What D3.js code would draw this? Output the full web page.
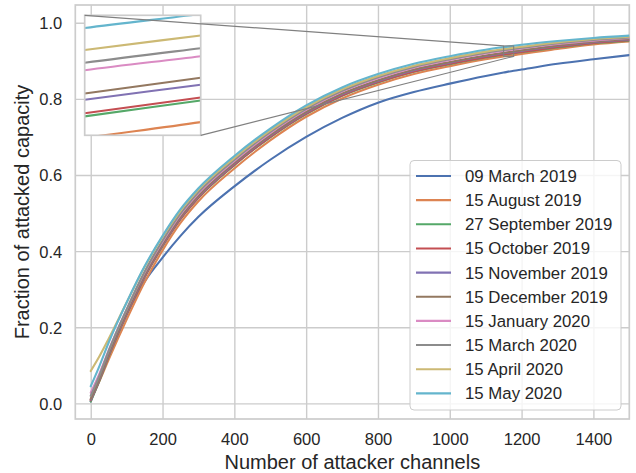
<!DOCTYPE html>
<html>
<head>
<meta charset="utf-8">
<script src="https://cdn.jsdelivr.net/npm/d3@7"></script>
<style>
  html, body { margin: 0; padding: 0; background: #ffffff; }
  svg { display: block; font-family: "Liberation Sans", Arial, Helvetica, sans-serif; }
</style>
</head>
<body>
<svg id="chart" width="636" height="473"></svg>
<script>
// ---------------- data ----------------
const xValues = [0, 25, 50, 100, 150, 200, 250, 300, 400, 500, 600, 700, 800, 900, 1000, 1100, 1150, 1178, 1200, 1300, 1400, 1500];

const seriesNames = ["09 March 2019", "15 August 2019", "27 September 2019", "15 October 2019",
  "15 November 2019", "15 December 2019", "15 January 2020", "15 March 2020", "15 April 2020", "15 May 2020"];

const seriesColors = ["#4C72B0", "#DD8452", "#55A868", "#C44E52", "#8172B3", "#937860", "#DA8BC3", "#8C8C8C", "#CCB974", "#64B5CD"];

const march2019     = [0.005, 0.065, 0.125, 0.235, 0.320, 0.383, 0.440, 0.490, 0.570, 0.640, 0.700, 0.750, 0.790, 0.818, 0.840, 0.860, 0.869, 0.8738, 0.877, 0.892, 0.904, 0.915];
const august2019    = [0.010, 0.060, 0.115, 0.220, 0.318, 0.402, 0.474, 0.531, 0.617, 0.691, 0.753, 0.801, 0.837, 0.865, 0.886, 0.904, 0.9111, 0.9147, 0.918, 0.931, 0.943, 0.951];
const september2019 = [0.005, 0.061, 0.123, 0.233, 0.331, 0.413, 0.484, 0.540, 0.626, 0.699, 0.760, 0.808, 0.843, 0.871, 0.891, 0.9085, 0.9160, 0.9196, 0.9225, 0.935, 0.946, 0.953];
const october2019   = [0.008, 0.063, 0.125, 0.234, 0.332, 0.414, 0.485, 0.541, 0.627, 0.700, 0.761, 0.809, 0.844, 0.872, 0.892, 0.9095, 0.9167, 0.9203, 0.923, 0.936, 0.947, 0.954];
const november2019  = [0.010, 0.065, 0.128, 0.237, 0.335, 0.417, 0.488, 0.544, 0.630, 0.703, 0.764, 0.812, 0.847, 0.875, 0.895, 0.9125, 0.9198, 0.9232, 0.926, 0.939, 0.949, 0.956];
const december2019  = [0.012, 0.067, 0.130, 0.239, 0.337, 0.419, 0.490, 0.546, 0.632, 0.705, 0.766, 0.814, 0.849, 0.877, 0.897, 0.914, 0.9212, 0.9248, 0.9275, 0.940, 0.950, 0.957];
const january2020   = [0.028, 0.080, 0.140, 0.247, 0.344, 0.425, 0.496, 0.552, 0.637, 0.710, 0.771, 0.819, 0.854, 0.882, 0.902, 0.919, 0.9265, 0.9297, 0.9324, 0.944, 0.953, 0.960];
const march2020     = [0.020, 0.075, 0.138, 0.247, 0.346, 0.428, 0.499, 0.555, 0.640, 0.713, 0.774, 0.821, 0.857, 0.884, 0.904, 0.921, 0.9282, 0.9315, 0.934, 0.946, 0.955, 0.961];
const april2020     = [0.085, 0.125, 0.170, 0.265, 0.358, 0.437, 0.506, 0.561, 0.645, 0.717, 0.778, 0.825, 0.860, 0.887, 0.907, 0.924, 0.9311, 0.9344, 0.937, 0.948, 0.957, 0.963];
const may2020       = [0.045, 0.100, 0.160, 0.265, 0.360, 0.440, 0.510, 0.565, 0.650, 0.722, 0.783, 0.830, 0.865, 0.892, 0.912, 0.929, 0.9361, 0.9393, 0.942, 0.952, 0.960, 0.966];

const seriesValues = [march2019, august2019, september2019, october2019, november2019,
  december2019, january2020, march2020, april2020, may2020];

const xTicks = [0, 200, 400, 600, 800, 1000, 1200, 1400];
const yTicks = [0.0, 0.2, 0.4, 0.6, 0.8, 1.0];
const xLabel = "Number of attacker channels";
const yLabel = "Fraction of attacked capacity";

const xDomain = [-43, 1500];
const yDomain = [-0.041, 1.0465];
const insetXDomain = [1150, 1178];
const insetYDomain = [0.9117, 0.9390];

// ---------------- layout ----------------
const svg = d3.select("#chart");
const ax = { left: 75.3, right: 629.3, top: 5, bottom: 419 };
const ins = { left: 84.7, right: 200.7, top: 15.3, bottom: 135.3 };
const gridColor = "#cccccc";
const textColor = "#262626";

const x = d3.scaleLinear().domain(xDomain).range([ax.left, ax.right]);
const y = d3.scaleLinear().domain(yDomain).range([ax.bottom, ax.top]);

const defs = svg.append("defs");
defs.append("clipPath").attr("id", "clipMain").append("rect")
  .attr("x", ax.left).attr("y", ax.top).attr("width", ax.right - ax.left).attr("height", ax.bottom - ax.top);
defs.append("clipPath").attr("id", "clipInset").append("rect")
  .attr("x", ins.left).attr("y", ins.top).attr("width", ins.right - ins.left).attr("height", ins.bottom - ins.top);

// grid
const xAxisG = svg.append("g").attr("transform", `translate(0,${ax.bottom})`)
  .call(d3.axisBottom(x).tickValues(xTicks).tickSize(-(ax.bottom - ax.top)).tickPadding(10).tickFormat(d3.format("d")));
const yAxisG = svg.append("g").attr("transform", `translate(${ax.left},0)`)
  .call(d3.axisLeft(y).tickValues(yTicks).tickSize(-(ax.right - ax.left)).tickPadding(13).tickFormat(d3.format(".1f")));
[xAxisG, yAxisG].forEach(g => {
  g.select(".domain").remove();
  g.selectAll(".tick line").attr("stroke", gridColor).attr("stroke-width", 1.4);
  g.selectAll(".tick text").attr("fill", textColor).attr("font-size", "16.5px")
    .attr("font-family", "'Liberation Sans', Arial, sans-serif");
});
xAxisG.selectAll(".tick text").attr("dy", "0.71em").attr("y", 14);
yAxisG.selectAll(".tick text").attr("dy", "0.36em");

// frame
svg.append("rect").attr("x", ax.left).attr("y", ax.top)
  .attr("width", ax.right - ax.left).attr("height", ax.bottom - ax.top)
  .attr("fill", "none").attr("stroke", gridColor).attr("stroke-width", 1.7);

// lines
const pts = vals => xValues.map((xv, i) => [xv, vals[i]]);
const line = d3.line().x(d => x(d[0])).y(d => y(d[1])).curve(d3.curveMonotoneX);
const mainLines = svg.append("g").attr("clip-path", "url(#clipMain)");
seriesValues.forEach((vals, i) => {
  mainLines.append("path").datum(pts(vals)).attr("d", line)
    .attr("fill", "none").attr("stroke", seriesColors[i]).attr("stroke-width", 2.1)
    .attr("stroke-linejoin", "round").attr("stroke-linecap", "round");
});

// zoom region rectangle
const rx0 = x(insetXDomain[0]), rx1 = x(insetXDomain[1]);
const ry0 = y(insetYDomain[1]), ry1 = y(insetYDomain[0]);
svg.append("rect").attr("x", rx0).attr("y", ry0).attr("width", rx1 - rx0).attr("height", ry1 - ry0)
  .attr("fill", "none").attr("stroke", "#808080").attr("stroke-width", 1.1);

// labels
svg.append("text").attr("x", (ax.left + ax.right) / 2).attr("y", 469)
  .attr("text-anchor", "middle").attr("font-size", "20px").attr("fill", textColor).text(xLabel);
svg.append("text").attr("transform", `translate(28.5,${(ax.top + ax.bottom) / 2}) rotate(-90)`)
  .attr("text-anchor", "middle").attr("font-size", "20px").attr("fill", textColor).text(yLabel);

// legend
const lg = { left: 410, top: 160.5, width: 211, height: 249.5 };
svg.append("rect").attr("x", lg.left).attr("y", lg.top).attr("width", lg.width).attr("height", lg.height)
  .attr("rx", 4).attr("fill", "#ffffff").attr("fill-opacity", 0.8).attr("stroke", gridColor).attr("stroke-width", 1);
seriesNames.forEach((name, i) => {
  const cy = 176 + i * 24.15;
  svg.append("line").attr("x1", 416).attr("x2", 451).attr("y1", cy).attr("y2", cy)
    .attr("stroke", seriesColors[i]).attr("stroke-width", 2.1);
  svg.append("text").attr("x", 465).attr("y", cy).attr("dy", "0.36em")
    .attr("font-size", "16.8px").attr("fill", textColor).text(name);
});

// inset
const xi = d3.scaleLinear().domain(insetXDomain).range([ins.left, ins.right]);
const yi = d3.scaleLinear().domain(insetYDomain).range([ins.bottom, ins.top]);
svg.append("rect").attr("x", ins.left).attr("y", ins.top).attr("width", ins.right - ins.left).attr("height", ins.bottom - ins.top)
  .attr("fill", "#ffffff");
const lineI = d3.line().x(d => xi(d[0])).y(d => yi(d[1])).curve(d3.curveMonotoneX);
const insetLines = svg.append("g").attr("clip-path", "url(#clipInset)");
seriesValues.forEach((vals, i) => {
  insetLines.append("path").datum(pts(vals)).attr("d", lineI)
    .attr("fill", "none").attr("stroke", seriesColors[i]).attr("stroke-width", 2.1);
});
svg.append("rect").attr("x", ins.left).attr("y", ins.top).attr("width", ins.right - ins.left).attr("height", ins.bottom - ins.top)
  .attr("fill", "none").attr("stroke", gridColor).attr("stroke-width", 1.7);

// connectors
svg.append("line").attr("x1", ins.left).attr("y1", ins.top).attr("x2", rx0).attr("y2", ry0)
  .attr("stroke", "#808080").attr("stroke-width", 1.2);
svg.append("line").attr("x1", ins.right).attr("y1", ins.bottom).attr("x2", rx1).attr("y2", ry1)
  .attr("stroke", "#808080").attr("stroke-width", 1.2);
</script>
</body>
</html>
